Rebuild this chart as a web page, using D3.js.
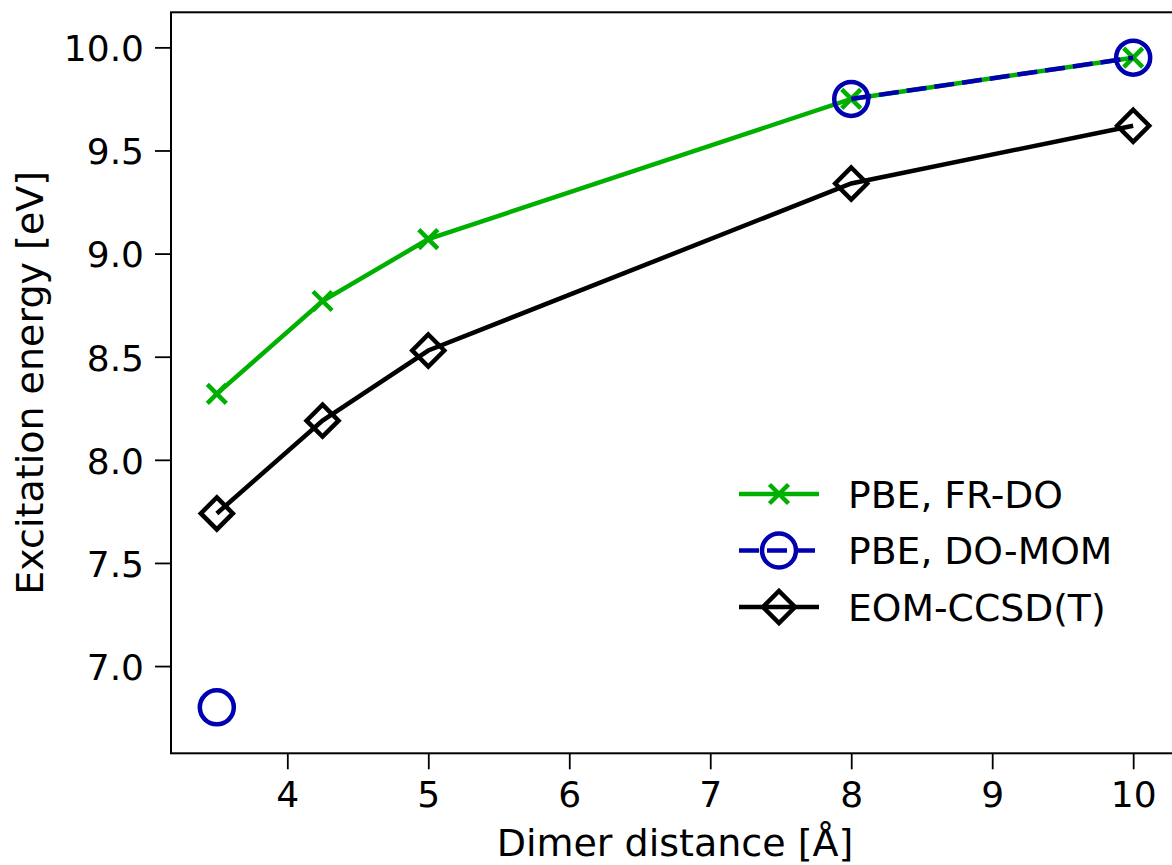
<!DOCTYPE html>
<html>

<head>
    <script src="https://d3js.org/d3.v7.min.js"></script>
    <style>
        body { margin: 0; background: white; }
        text { font-family: "DejaVu Sans", sans-serif; fill: black; }
    </style>
</head>

<body>
    <svg id="chart" width="1172" height="865"></svg>
    <script>
        // values
        const distances = [3.5, 4.25, 5, 8, 10]
        const frdo = [8.32, 8.77, 9.07, 9.75, 9.95]
        const dommom = [6.80, null, null, 9.75, 9.95]
        const eom = [7.74, 8.19, 8.53, 9.34, 9.62]
        const xTicks = [4, 5, 6, 7, 8, 9, 10]
        const yTicks = [7.0, 7.5, 8.0, 8.5, 9.0, 9.5, 10.0]
        const seriesNames = ["PBE, FR-DO", "PBE, DO-MOM", "EOM-CCSD(T)"]

        const green = "#00b000", blue = "#0000b0"
        const plotLeft = 171, plotRight = 1179, plotTop = 12.3, plotBottom = 753.3
        const lw = 4.5

        const svg = d3.select("#chart")
        const x = d3.scaleLinear().domain([3.175, 10.325]).range([plotLeft, plotRight])
        const y = d3.scaleLinear().domain([6.577, 10.17]).range([plotBottom, plotTop])

        // axes
        const xAxis = svg.append("g")
            .attr("transform", `translate(0,${plotBottom})`)
            .call(d3.axisBottom(x).tickValues(xTicks).tickSize(16).tickPadding(12).tickFormat(d3.format("d")))
        const yAxis = svg.append("g")
            .attr("transform", `translate(${plotLeft},0)`)
            .call(d3.axisLeft(y).tickValues(yTicks).tickSize(16).tickPadding(11).tickFormat(d3.format(".1f")))
        for (const ax of [xAxis, yAxis]) {
            ax.select(".domain").remove()
            ax.selectAll(".tick line").attr("stroke", "black").attr("stroke-width", 1.8)
            ax.selectAll(".tick text").style("font-size", "36px").attr("fill", "black")
        }
        xAxis.selectAll(".tick text").attr("dy", "0.72em")
        yAxis.selectAll(".tick text").attr("dy", "0.37em")

        svg.append("rect")
            .attr("x", plotLeft).attr("y", plotTop)
            .attr("width", plotRight - plotLeft).attr("height", plotBottom - plotTop)
            .attr("fill", "none").attr("stroke", "black").attr("stroke-width", 2)

        svg.append("text")
            .attr("x", (plotLeft + plotRight) / 2).attr("y", 856)
            .attr("text-anchor", "middle")
            .style("font-size", "38px")
            .text("Dimer distance [Å]")
        svg.append("text")
            .attr("transform", `translate(43,${(plotTop + plotBottom) / 2}) rotate(-90)`)
            .attr("text-anchor", "middle")
            .style("font-size", "38px")
            .text("Excitation energy [eV]")

        // marker shapes
        function crossPath(cx, cy) {
            const h = 9.5
            return `M${cx - h},${cy - h}L${cx + h},${cy + h}M${cx - h},${cy + h}L${cx + h},${cy - h}`
        }
        function diamondPath(cx, cy) {
            const h = 16
            return `M${cx},${cy - h}L${cx + h},${cy}L${cx},${cy + h}L${cx - h},${cy}Z`
        }
        function drawMarker(g, kind, cx, cy) {
            if (kind === "x") {
                g.append("path").attr("d", crossPath(cx, cy))
                    .attr("stroke", green).attr("stroke-width", lw).attr("fill", "none")
            } else if (kind === "o") {
                g.append("circle").attr("cx", cx).attr("cy", cy).attr("r", 17)
                    .attr("stroke", blue).attr("stroke-width", lw).attr("fill", "none")
            } else {
                g.append("path").attr("d", diamondPath(cx, cy))
                    .attr("stroke", "black").attr("stroke-width", lw).attr("fill", "none")
                    .attr("stroke-linejoin", "miter")
            }
        }

        const series = [
            { name: seriesNames[0], values: frdo, color: green, dash: null, marker: "x" },
            { name: seriesNames[1], values: dommom, color: blue, dash: "20,8", marker: "o" },
            { name: seriesNames[2], values: eom, color: "black", dash: null, marker: "D" }
        ]

        const line = d3.line()
            .defined(d => d[1] != null)
            .x(d => x(d[0])).y(d => y(d[1]))

        const plot = svg.append("g")
        series.forEach(s => {
            const pts = distances.map((d, i) => [d, s.values[i]])
            plot.append("path")
                .datum(pts)
                .attr("d", line)
                .attr("fill", "none")
                .attr("stroke", s.color)
                .attr("stroke-width", lw)
                .attr("stroke-dasharray", s.dash)
            pts.filter(p => p[1] != null).forEach(p => drawMarker(plot, s.marker, x(p[0]), y(p[1])))
        })

        // legend
        const legend = svg.append("g")
        series.forEach((s, i) => {
            const ly = 494 + i * 56.5
            legend.append("line")
                .attr("x1", 739).attr("x2", 819).attr("y1", ly).attr("y2", ly)
                .attr("stroke", s.color).attr("stroke-width", lw)
                .attr("stroke-dasharray", s.dash)
            drawMarker(legend, s.marker, 779, ly)
            legend.append("text")
                .attr("x", 848).attr("y", ly + 13.5)
                .style("font-size", "37.7px")
                .text(s.name)
        })
    </script>
</body>

</html>
